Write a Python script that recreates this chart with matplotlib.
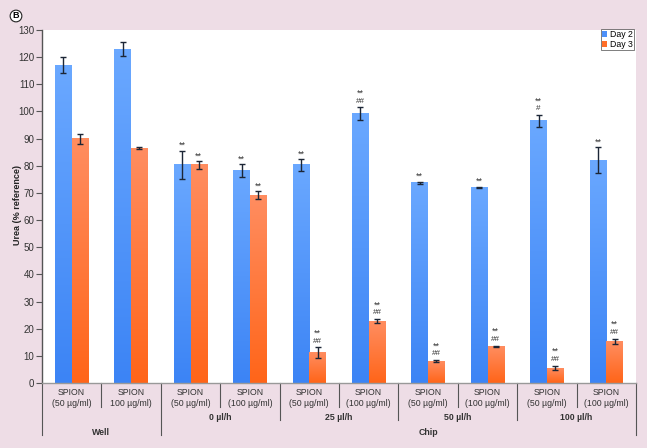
import matplotlib
matplotlib.use("Agg")
import matplotlib.pyplot as plt
import numpy as np
from matplotlib.colors import LinearSegmentedColormap
from matplotlib.transforms import blended_transform_factory
from matplotlib.patches import Patch
from matplotlib.lines import Line2D

plt.rcParams['font.family'] = ['Liberation Sans', 'DejaVu Sans']

conc_labels = ["SPION\n(50 µg/ml)", "SPION\n100 µg/ml)", "SPION\n(50 µg/ml)", "SPION\n(100 µg/ml)",
               "SPION\n(50 µg/ml)", "SPION\n(100 µg/ml)", "SPION\n(50 µg/ml)", "SPION\n(100 µg/ml)",
               "SPION\n(50 µg/ml)", "SPION\n(100 µg/ml)"]
flow_labels = ["0 µl/h", "25 µl/h", "50 µl/h", "100 µl/h"]
group_labels = ["Well", "Chip"]
series_names = ["Day 2", "Day 3"]

day2 = [117.0, 123.0, 80.3, 78.2, 80.3, 99.2, 73.8, 72.0, 96.5, 82.0]
day2_err = [2.9, 2.6, 5.2, 2.4, 2.1, 2.3, 0.4, 0.3, 2.1, 4.8]
day3 = [90.0, 86.5, 80.3, 69.2, 11.2, 22.8, 8.0, 13.5, 5.5, 15.3]
day3_err = [1.8, 0.5, 1.4, 1.5, 1.9, 0.7, 0.4, 0.3, 0.8, 1.0]
day2_sig = ["", "", "**", "**", "**", "**\n##", "**", "**", "**\n#", "**"]
day3_sig = ["", "", "**", "**", "**\n##", "**\n##", "**\n##", "**\n##", "**\n##", "**\n##"]

W, H = 647, 448
fig = plt.figure(figsize=(W / 100, H / 100), dpi=100, facecolor="#eedde6")
ax = fig.add_axes([42 / W, (H - 383) / H, (636 - 42) / W, (383 - 30) / H])
ax.set_facecolor("white")

n = len(day2)
x = np.arange(n)
bw = 0.28
blue_cmap = LinearSegmentedColormap.from_list("b", ["#6aa8ff", "#3c84f5"])
orange_cmap = LinearSegmentedColormap.from_list("o", ["#ff8d60", "#ff6519"])
grad = np.linspace(0, 1, 100).reshape(-1, 1)

for vals, errs, off, cmap in [(day2, day2_err, -bw / 2, blue_cmap),
                              (day3, day3_err, bw / 2, orange_cmap)]:
    bars = ax.bar(x + off, vals, bw, color="none", edgecolor="none", zorder=2)
    for b in bars:
        x0, x1 = b.get_x(), b.get_x() + b.get_width()
        h = b.get_height()
        ax.imshow(grad, extent=[x0, x1, 0, h], aspect="auto", cmap=cmap, zorder=2,
                  origin="upper", interpolation="bilinear")
    ax.errorbar(x + off, vals, yerr=errs, fmt="none", ecolor="#1c2636", elinewidth=1.0,
                capsize=2.5, capthick=1.0, zorder=3)

for vals, errs, sigs, off in [(day2, day2_err, day2_sig, -bw / 2), (day3, day3_err, day3_sig, bw / 2)]:
    for xi, v, e, s in zip(x, vals, errs, sigs):
        if not s:
            continue
        lines = s.split("\n")
        top = v + e
        y_off = 2
        for ln in reversed(lines):
            if ln.startswith("#"):
                ax.annotate(ln, (xi + off, top), xytext=(0, y_off), textcoords="offset points",
                            ha="center", va="bottom", fontsize=5.8, color="#333333")
                y_off += 6.5
            else:
                ax.annotate(ln, (xi + off, top), xytext=(0, y_off - 1.5), textcoords="offset points",
                            ha="center", va="bottom", fontsize=6.5, color="#333333")

ax.set_xlim(-0.5, n - 0.5)
ax.set_ylim(0, 130)
ax.set_yticks(np.arange(0, 131, 10))
ax.tick_params(axis="y", labelsize=7, length=4, width=0.8, color="#555555", labelcolor="#333333", pad=1.5)
ax.set_xticks([])
for s in ["top", "right"]:
    ax.spines[s].set_visible(False)
ax.spines["left"].set_color("#555555")
ax.spines["left"].set_linewidth(1.0)
ax.spines["bottom"].set_color("#999999")
ax.spines["bottom"].set_linewidth(1.0)

fig.text(18 / W, 1 - 205 / H, "Urea (% reference)", rotation=90, ha="center", va="center",
         fontsize=6.5, fontweight="bold", color="#222222")

# category table below the axis
tr = blended_transform_factory(ax.transData, fig.transFigure)
def fy(py):
    return 1 - py / H

for xi, lab in enumerate(conc_labels):
    ax.text(xi, fy(398), lab, transform=tr, ha="center", va="center", fontsize=6.3,
            color="#333333", linespacing=1.25)

flow_pos = [2.5, 4.5, 6.5, 8.5]
for xp, lab in zip(flow_pos, flow_labels):
    ax.text(xp, fy(417), lab, transform=tr, ha="center", va="center", fontsize=6.3,
            fontweight="bold", color="#333333")
ax.text(0.5, fy(432), group_labels[0], transform=tr, ha="center", va="center", fontsize=6.3,
        fontweight="bold", color="#333333")
ax.text(6.0, fy(432), group_labels[1], transform=tr, ha="center", va="center", fontsize=6.3,
        fontweight="bold", color="#333333")

sep_len = {-0.5: 435, 0.5: 407, 1.5: 435, 2.5: 407, 3.5: 420, 4.5: 407, 5.5: 420,
           6.5: 407, 7.5: 420, 8.5: 407, 9.5: 435}
for xp, yb in sep_len.items():
    ax.add_line(Line2D([xp, xp], [fy(383), fy(yb)], transform=tr, color="#555555",
                       lw=0.8, clip_on=False))

handles = [Patch(facecolor="#4d90f8", edgecolor="none", label=series_names[0]),
           Patch(facecolor="#ff6e28", edgecolor="none", label=series_names[1])]
leg = fig.legend(handles=handles, loc="upper right", bbox_to_anchor=(634 / W, 1 - 29 / H),
                 fontsize=6.3, frameon=True, fancybox=False, handlelength=0.6, handleheight=0.6,
                 handletextpad=0.3, borderpad=0.15, labelspacing=0.1, borderaxespad=0)
leg.get_frame().set_edgecolor("#444444")
leg.get_frame().set_linewidth(0.6)

fig.text(16 / W, 1 - 16 / H, "B", ha="center", va="center", fontsize=6.5, fontweight="bold",
         bbox=dict(boxstyle="circle,pad=0.15", facecolor="white", edgecolor="#222222", lw=0.8))

fig.savefig("out.png", dpi=100, facecolor=fig.get_facecolor())
